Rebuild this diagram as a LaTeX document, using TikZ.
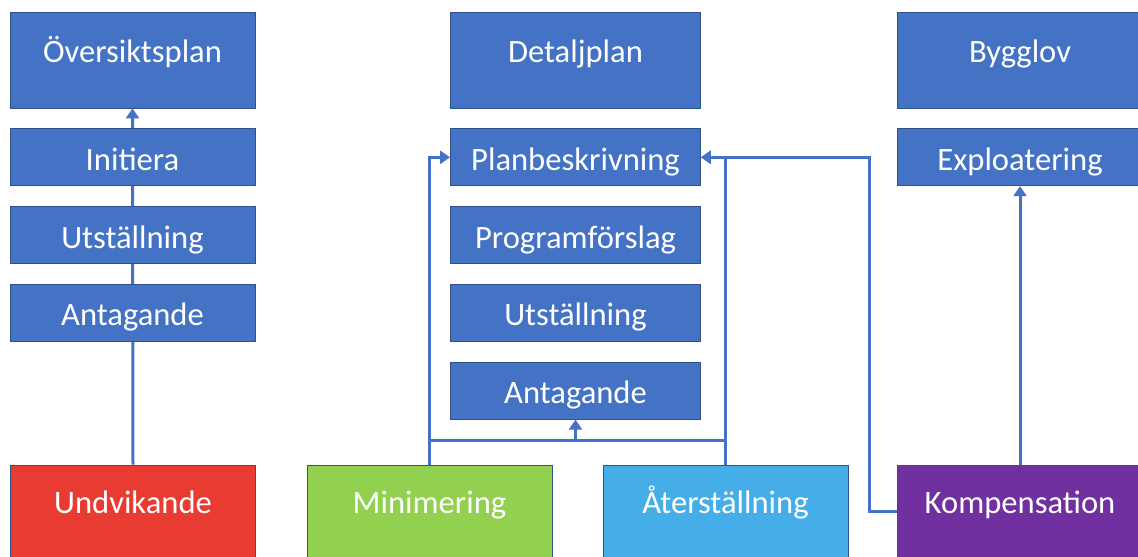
\documentclass[tikz,border=0pt]{standalone}
\usepackage{fontspec}
\setmainfont{Carlito}
\usepackage{tikz}
\usetikzlibrary{positioning, arrows.meta}
\usetikzlibrary{backgrounds}
\definecolor{boxblue}{HTML}{4472C4}
\definecolor{boxedge}{HTML}{2F528F}
\definecolor{avoidred}{HTML}{E83C32}
\definecolor{mingreen}{HTML}{92D050}
\definecolor{restblue}{HTML}{45AEE8}
\definecolor{comppurple}{HTML}{7030A0}

\begin{document}
\begin{tikzpicture}[x=0.5pt,y=-0.5pt,
    box/.style={draw=boxedge,fill=boxblue,text=white,inner sep=0pt,
        minimum width=122.5pt,font=\fontsize{16.3}{19}\selectfont},
    tall/.style={box,minimum height=48pt,text height=8pt,text depth=6pt},
    small/.style={box,minimum height=28.5pt,text height=13pt,text depth=0pt},
    conn/.style={draw=boxblue,line width=1.5pt},
    arr/.style={conn,-{Triangle[width=6.5pt,length=5pt]}}]
\useasboundingbox (0,0) rectangle (1138,556);
\clip (0,0) rectangle (1138,556);

% planer
\node[tall] (ovp) at (132.5,60) {Översiktsplan};
\node[small,below=10pt of ovp] (init) {Initiera};
\node[small,below=10pt of init] (utst1) {Utställning};
\node[small,below=10pt of utst1] (ant1) {Antagande};

\node[tall,minimum width=125pt] (dp) at (575.5,60) {Detaljplan};
\node[small,minimum width=125pt,below=10pt of dp] (pbs) {Planbeskrivning};
\node[small,minimum width=125pt,below=10pt of pbs] (prog) {Programförslag};
\node[small,minimum width=125pt,below=10pt of prog] (utst2) {Utställning};
\node[small,minimum width=125pt,below=10pt of utst2] (ant2) {Antagande};

\node[tall] (bl) at (1020,60) {Bygglov};
\node[small,below=10pt of bl] (expl) {Exploatering};

% steg
\node[tall,minimum height=46pt,fill=avoidred] (und) at (133,511) {Undvikande};
\node[tall,minimum height=46pt,fill=mingreen] (min) at (429.5,511) {Minimering};
\node[tall,minimum height=46pt,fill=restblue] (ater) at (725.5,511) {Återställning};
\node[tall,minimum height=46pt,fill=comppurple] (komp) at (1020,511) {Kompensation};

\coordinate (jn) at (575.5,440);

\begin{scope}[on background layer]
\path[arr] (und.north) -- (ovp.south);
\end{scope}
\draw[arr] (min.north) |- (pbs.west);
\draw[conn] (min.north |- jn) -- (ater.north |- jn);
\draw[arr] (jn) -- (ant2.south);
\draw[arr] (ater.north) |- (pbs.east);
\draw[arr] (komp.west) -- ++(-28,0) |- (pbs.east);
\draw[arr] (komp.north) -- (expl.south);
\end{tikzpicture}
\end{document}
